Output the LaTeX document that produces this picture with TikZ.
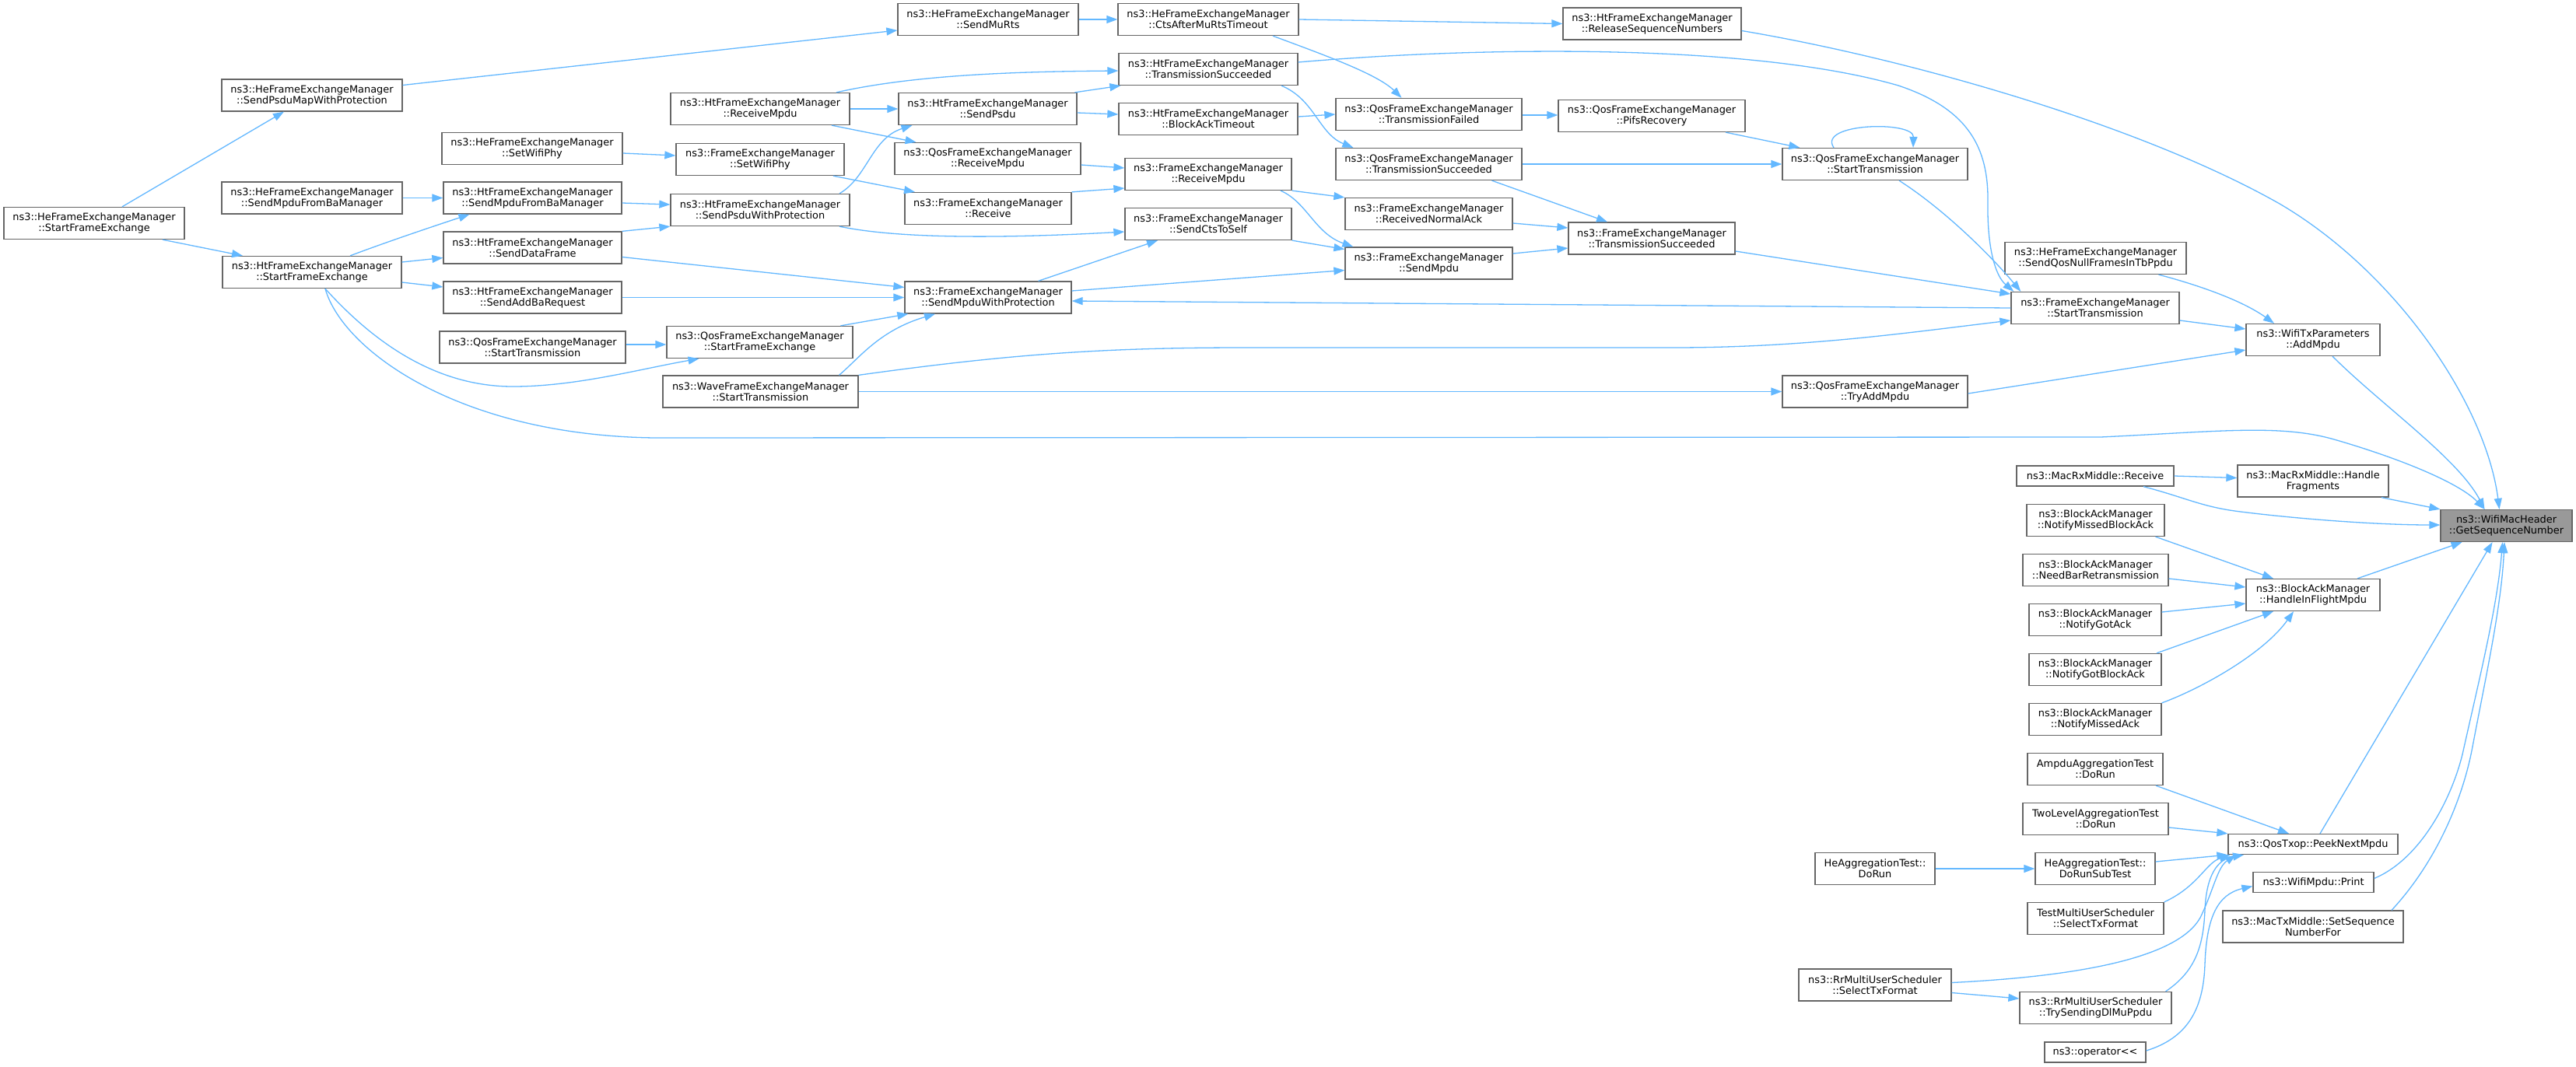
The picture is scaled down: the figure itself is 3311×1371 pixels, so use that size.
\documentclass[tikz,border=0pt]{standalone}
\usepackage{fontspec}
\newfontfamily\dejavu{DejaVu Sans}
\usetikzlibrary{arrows.meta,calc}
\definecolor{edgeblue}{HTML}{63B8FF}
\definecolor{boxgray}{HTML}{666666}
\definecolor{mainfill}{HTML}{999999}
\begin{document}
\begin{tikzpicture}[x=1pt,y=-1pt,
  bx/.style={draw=boxgray, fill=white, line width=1.3pt, inner sep=0pt, minimum height=41pt, align=center, font=\dejavu\fontsize{12.9pt}{14pt}\selectfont},
  bx1/.style={bx, minimum height=26pt},
  edg/.style={draw=edgeblue, line width=1.3pt, -{Triangle[length=14pt,width=10pt]}}]
\useasboundingbox[fill=white] (0,0) rectangle (3311,1371);
% nodes
\node[bx, minimum width=232pt] (heSFE) at (121,287) {ns3::HeFrameExchangeManager\\::StartFrameExchange};
\node[bx, minimum width=232pt] (heSPMWP) at (401,122.5) {ns3::HeFrameExchangeManager\\::SendPsduMapWithProtection};
\node[bx, minimum width=232pt] (heSWP) at (684,191) {ns3::HeFrameExchangeManager\\::SetWifiPhy};
\node[bx, minimum width=232pt] (heSMFBM) at (401,254.5) {ns3::HeFrameExchangeManager\\::SendMpduFromBaManager};
\node[bx, minimum width=230pt] (htSFE) at (401,350) {ns3::HtFrameExchangeManager\\::StartFrameExchange};
\node[bx, minimum width=229pt] (htSMFBM) at (684.5,254.5) {ns3::HtFrameExchangeManager\\::SendMpduFromBaManager};
\node[bx, minimum width=229pt] (htSDF) at (684.5,318.5) {ns3::HtFrameExchangeManager\\::SendDataFrame};
\node[bx, minimum width=229pt] (htSABR) at (684.5,382.5) {ns3::HtFrameExchangeManager\\::SendAddBaRequest};
\node[bx, minimum width=239pt] (qosST1) at (684.5,446.5) {ns3::QosFrameExchangeManager\\::StartTransmission};
\node[bx, minimum width=230pt] (htRM) at (977,140) {ns3::HtFrameExchangeManager\\::ReceiveMpdu};
\node[bx, minimum width=216pt] (fSWP) at (977,205) {ns3::FrameExchangeManager\\::SetWifiPhy};
\node[bx, minimum width=230pt] (htSPWP) at (977,270) {ns3::HtFrameExchangeManager\\::SendPsduWithProtection};
\node[bx, minimum width=239pt] (qosSFE) at (976.5,440) {ns3::QosFrameExchangeManager\\::StartFrameExchange};
\node[bx, minimum width=251pt] (waveST) at (977.5,503.5) {ns3::WaveFrameExchangeManager\\::StartTransmission};
\node[bx, minimum width=232pt] (heSMR) at (1270,25) {ns3::HeFrameExchangeManager\\::SendMuRts};
\node[bx, minimum width=229pt] (htSP) at (1269.5,140) {ns3::HtFrameExchangeManager\\::SendPsdu};
\node[bx, minimum width=239pt] (qosRM) at (1269.5,204) {ns3::QosFrameExchangeManager\\::ReceiveMpdu};
\node[bx, minimum width=214pt] (fR) at (1270,268) {ns3::FrameExchangeManager\\::Receive};
\node[bx, minimum width=214pt] (fSMWP) at (1270,382.5) {ns3::FrameExchangeManager\\::SendMpduWithProtection};
\node[bx, minimum width=232pt] (heCAMRT) at (1553,25) {ns3::HeFrameExchangeManager\\::CtsAfterMuRtsTimeout};
\node[bx, minimum width=230pt] (htTS) at (1553,89) {ns3::HtFrameExchangeManager\\::TransmissionSucceeded};
\node[bx, minimum width=230pt] (htBAT) at (1553,153) {ns3::HtFrameExchangeManager\\::BlockAckTimeout};
\node[bx, minimum width=214pt] (fRM) at (1553,224) {ns3::FrameExchangeManager\\::ReceiveMpdu};
\node[bx, minimum width=214pt] (fSCTS) at (1553,288) {ns3::FrameExchangeManager\\::SendCtsToSelf};
\node[bx, minimum width=239pt] (qosTF) at (1836.5,147) {ns3::QosFrameExchangeManager\\::TransmissionFailed};
\node[bx, minimum width=239pt] (qosTS) at (1836.5,211) {ns3::QosFrameExchangeManager\\::TransmissionSucceeded};
\node[bx, minimum width=215pt] (fRNA) at (1836.5,275) {ns3::FrameExchangeManager\\::ReceivedNormalAck};
\node[bx, minimum width=215pt] (fSM) at (1836.5,338.5) {ns3::FrameExchangeManager\\::SendMpdu};
\node[bx, minimum width=229pt] (htRSN) at (2123.5,30.5) {ns3::HtFrameExchangeManager\\::ReleaseSequenceNumbers};
\node[bx, minimum width=240pt] (qosPR) at (2123,149) {ns3::QosFrameExchangeManager\\::PifsRecovery};
\node[bx, minimum width=214pt] (fTS) at (2123,306.5) {ns3::FrameExchangeManager\\::TransmissionSucceeded};
\node[bx, minimum width=238pt] (qosST2) at (2410,211) {ns3::QosFrameExchangeManager\\::StartTransmission};
\node[bx, minimum width=238pt] (qosTAM) at (2410,503.5) {ns3::QosFrameExchangeManager\\::TryAddMpdu};
\node[bx, minimum width=233pt] (heSQNF) at (2693.5,332) {ns3::HeFrameExchangeManager\\::SendQosNullFramesInTbPpdu};
\node[bx, minimum width=216pt] (fST) at (2693,396) {ns3::FrameExchangeManager\\::StartTransmission};
\node[bx1, minimum width=202pt] (mrxR) at (2693,612) {ns3::MacRxMiddle::Receive};
\node[bx, minimum width=177pt] (bNMBA) at (2693.5,669) {ns3::BlockAckManager\\::NotifyMissedBlockAck};
\node[bx, minimum width=187pt] (bNBR) at (2693.5,733) {ns3::BlockAckManager\\::NeedBarRetransmission};
\node[bx, minimum width=170pt] (bNGA) at (2693,797) {ns3::BlockAckManager\\::NotifyGotAck};
\node[bx, minimum width=170pt] (bNGBA) at (2693,861) {ns3::BlockAckManager\\::NotifyGotBlockAck};
\node[bx, minimum width=170pt] (bNMA) at (2693,925) {ns3::BlockAckManager\\::NotifyMissedAck};
\node[bx, minimum width=174pt] (ampdu) at (2693,989) {AmpduAggregationTest\\::DoRun};
\node[bx, minimum width=187pt] (twoL) at (2693.5,1053) {TwoLevelAggregationTest\\::DoRun};
\node[bx, minimum width=154pt] (heAggR) at (2410,1117) {HeAggregationTest::\\DoRun};
\node[bx, minimum width=154pt] (heAggS) at (2693,1117) {HeAggregationTest::\\DoRunSubTest};
\node[bx, minimum width=175pt] (testMUS) at (2693.5,1181) {TestMultiUserScheduler\\::SelectTxFormat};
\node[bx, minimum width=196pt] (rrSTF) at (2410,1266.5) {ns3::RrMultiUserScheduler\\::SelectTxFormat};
\node[bx, minimum width=195pt] (rrTSD) at (2693.5,1296) {ns3::RrMultiUserScheduler\\::TrySendingDlMuPpdu};
\node[bx1, minimum width=130pt] (opLL) at (2693,1353) {ns3::operator{<}{<}};
\node[bx, minimum width=194pt] (mrxHF) at (2973,618.5) {ns3::MacRxMiddle::Handle\\Fragments};
\node[bx, minimum width=172pt] (bHIFM) at (2973,765) {ns3::BlockAckManager\\::HandleInFlightMpdu};
\node[bx1, minimum width=218pt] (peek) at (2973,1085.5) {ns3::QosTxop::PeekNextMpdu};
\node[bx1, minimum width=155pt] (wmPrint) at (2973.5,1134.5) {ns3::WifiMpdu::Print};
\node[bx, minimum width=232pt] (mtxSSN) at (2973,1191.5) {ns3::MacTxMiddle::SetSequence\\NumberFor};
\node[bx, minimum width=172pt] (addMpdu) at (2973,437) {ns3::WifiTxParameters\\::AddMpdu};
\node[bx, minimum width=169pt, fill=mainfill] (gsn) at (3221.5,676) {ns3::WifiMacHeader\\::GetSequenceNumber};
% edges
\draw[edg] ($(heSFE.north)+(36,0)$) -- ($(heSPMWP.south)+(-36,0)$);
\draw[edg] ($(heSFE.south)+(88,0)$) -- ($(htSFE.north)+(-89,0)$);
\draw[edg] ($(heSPMWP.east)+(0,-13)$) -- ($(heSMR.west)+(0,14)$);
\draw[edg] (heSMR.east) -- (heCAMRT.west);
\draw[edg] (heCAMRT.east) -- (htRSN.west);
\draw[edg] ($(heCAMRT.south)+(83,0)$) .. controls (1700,70) and (1770,95) .. ($(qosTF.north)+(-35,0)$);
\draw[edg] ($(htRSN.east)+(0,9)$) .. controls (2450,75) and (2750,160) .. (2930,262) .. controls (3080,350) and (3195,520) .. ($(gsn.north)+(-9,0)$);
\draw[edg] ($(htTS.east)+(0,-9)$) .. controls (1900,60) and (2250,55) .. (2440,110) .. controls (2530,140) and (2556,190) .. (2555,260) .. controls (2554,320) and (2565,355) .. ($(fST.north west)+(4,0)$);
\draw[edg] ($(htTS.south)+(94,0)$) .. controls (1690,128) and (1695,172) .. ($(qosTS.north west)+(23,0)$);
\draw[edg] ($(htBAT.east)+(0,-3)$) -- (qosTF.west);
\draw[edg] ($(htRM.north)+(98,0)$) .. controls (1180,95) and (1320,92) .. ($(htTS.west)+(0,2)$);
\draw[edg] (htRM.east) -- (htSP.west);
\draw[edg] ($(htRM.south)+(92,0)$) -- ($(qosRM.north)+(-92,0)$);
\draw[edg] ($(htSP.north)+(112,0)$) -- ($(htTS.south west)+(3,0)$);
\draw[edg] ($(htSP.east)+(0,5)$) -- ($(htBAT.west)+(0,-6)$);
\draw[edg] ($(qosRM.east)+(0,8)$) -- ($(fRM.west)+(0,-8)$);
\draw[edg] (fR.north east) -- ($(fRM.west)+(0,18)$);
\draw[edg] ($(fSWP.south)+(94,0)$) -- ($(fR.north)+(-94,0)$);
\draw[edg] ($(heSWP.east)+(0,6)$) -- ($(fSWP.west)+(0,-5)$);
\draw[edg] ($(htSPWP.north)+(102,0)$) .. controls (1115,228) and (1120,178) .. ($(htSP.south)+(-97,0)$);
\draw[edg] ($(htSPWP.south)+(102,0)$) .. controls (1160,308) and (1300,306) .. ($(fSCTS.west)+(0,10)$);
\draw[edg] ($(htSMFBM.east)+(0,6.5)$) -- ($(htSPWP.west)+(0,-7)$);
\draw[edg] (htSDF.north east) -- (htSPWP.south west);
\draw[edg] ($(htSDF.east)+(0,12)$) -- ($(fSMWP.west)+(0,-13)$);
\draw[edg] ($(htSFE.north)+(49,0)$) .. controls (500,310) and (560,290) .. ($(htSMFBM.south)+(-81,0)$);
\draw[edg] ($(htSFE.east)+(0,-13)$) -- ($(htSDF.west)+(0,13)$);
\draw[edg] ($(htSFE.east)+(0,13)$) -- ($(htSABR.west)+(0,-13.5)$);
\draw[edg] (htSABR.east) -- (fSMWP.west);
\draw[edg] ($(qosST1.east)+(0,-3.5)$) -- ($(qosSFE.west)+(0,3)$);
\draw[edg] ($(qosSFE.north)+(104,0)$) -- ($(fSMWP.south west)+(5,0)$);
\draw[edg] ($(waveST.north)+(101,0)$) .. controls (1105,460) and (1130,425) .. ($(fSMWP.south)+(-68,0)$);
\draw[edg] (waveST.north east) .. controls (1300,455) and (1420,447) .. (1600,447) -- (2150,447) .. controls (2320,447) and (2450,428) .. ($(fST.west)+(0,16)$);
\draw[edg] (waveST.east) -- (qosTAM.west);
\draw[edg] ($(qosTAM.east)+(0,2.5)$) -- ($(addMpdu.west)+(0,13)$);
\draw[edg] ($(fST.east)+(0,16)$) -- ($(addMpdu.west)+(0,-14)$);
\draw[edg] ($(heSQNF.south)+(81,0)$) .. controls (2820,365) and (2880,385) .. ($(addMpdu.north)+(-50,0)$);
\draw[edg] ($(addMpdu.south)+(25,0)$) .. controls (3060,520) and (3160,590) .. ($(gsn.north)+(-28,0)$);
\draw[edg] (fST.west) -- ($(fSMWP.east)+(0,4.5)$);
\draw[edg] ($(fTS.east)+(0,16.5)$) -- ($(fST.west)+(0,-18)$);
\draw[edg] ($(fSMWP.east)+(0,-8.5)$) -- ($(fSM.west)+(0,9)$);
\draw[edg] ($(fSMWP.north)+(64.5,0)$) -- ($(fSCTS.south)+(-65,0)$);
\draw[edg] (fRM.south east) -- (fRNA.north west);
\draw[edg] ($(fRM.south)+(93,0)$) .. controls (1680,260) and (1690,300) .. ($(fSM.north west)+(11,0)$);
\draw[edg] (fSCTS.south east) -- ($(fSM.west)+(0,-18)$);
\draw[edg] ($(fRNA.east)+(0,12)$) -- ($(fTS.west)+(0,-13.5)$);
\draw[edg] ($(fSM.east)+(0,-12.5)$) -- ($(fTS.west)+(0,12.5)$);
\draw[edg] ($(qosTS.south)+(81,0)$) -- ($(fTS.north)+(-57,0)$);
\draw[edg] (qosTS.east) -- (qosST2.west);
\draw[edg] ($(qosTF.east)+(0,1)$) -- ($(qosPR.west)+(0,-1)$);
\draw[edg] ($(qosPR.south)+(95,0)$) -- ($(qosST2.north west)+(23,0)$);
\draw[edg] ($(qosST2.north)+(-53,0)$) .. controls (2335,158) and (2460,155) .. ($(qosST2.north)+(49,0)$);
\draw[edg] ($(qosST2.south)+(31,0)$) .. controls (2500,270) and (2560,330) .. ($(fST.north west)+(13,0)$);
\draw[edg] ($(htSFE.south)+(17,0)$) .. controls (480,440) and (560,497) .. (659,497) .. controls (740,497) and (820,475) .. ($(qosSFE.south)+(-78,0)$);
\draw[edg] ($(htSFE.south)+(17,0)$) .. controls (440,450) and (590,560) .. (842,563) -- (2700,562) .. controls (2850,555) and (2930,545) .. (3000,565) .. controls (3080,588) and (3160,620) .. ($(gsn.north)+(-28,0)$);
\draw[edg] (mrxR.east) -- ($(mrxHF.west)+(0,-4)$);
\draw[edg] ($(mrxR.south)+(62,0)$) .. controls (2810,640) and (2830,652) .. (2880,658) .. controls (2960,668) and (3060,675) .. ($(gsn.west)+(0,-1)$);
\draw[edg] ($(mrxHF.south)+(88,0)$) -- (gsn.north west);
\draw[edg] ($(bNMBA.south)+(77,0)$) -- ($(bHIFM.north)+(-51,0)$);
\draw[edg] ($(bNBR.east)+(0,11)$) -- ($(bHIFM.west)+(0,-10)$);
\draw[edg] ($(bNGA.east)+(0,-10)$) -- ($(bHIFM.west)+(0,11)$);
\draw[edg] ($(bNGBA.north)+(79,0)$) -- ($(bHIFM.south)+(-51,0)$);
\draw[edg] (bNMA.north east) .. controls (2830,885) and (2910,840) .. ($(bHIFM.south)+(-25,0)$);
\draw[edg] ($(bHIFM.north)+(57,0)$) -- ($(gsn.south)+(-57,0)$);
\draw[edg] ($(ampdu.south)+(78,0)$) -- ($(peek.north)+(-31,0)$);
\draw[edg] ($(twoL.east)+(0,11)$) -- (peek.north west);
\draw[edg] (heAggR.east) -- (heAggS.west);
\draw[edg] ($(heAggS.east)+(0,-9)$) -- (peek.south west);
\draw[edg] (testMUS.north east) .. controls (2825,1140) and (2835,1110) .. ($(peek.south west)+(3,0)$);
\draw[edg] ($(rrSTF.east)+(0,-3)$) .. controls (2680,1255) and (2800,1230) .. (2828,1180) .. controls (2845,1145) and (2850,1115) .. ($(peek.south)+(-99,0)$);
\draw[edg] ($(rrSTF.east)+(0,10)$) -- ($(rrTSD.west)+(0,-12)$);
\draw[edg] ($(rrTSD.north)+(90,0)$) .. controls (2820,1250) and (2832,1220) .. (2834,1170) .. controls (2836,1125) and (2850,1105) .. ($(peek.south)+(-89,0)$);
\draw[edg] ($(opLL.east)+(0,-2)$) .. controls (2810,1335) and (2832,1300) .. (2834,1240) .. controls (2836,1180) and (2850,1150) .. ($(wmPrint.west)+(0,5)$);
\draw[edg] ($(peek.north)+(9,0)$) -- ($(gsn.south)+(-18,0)$);
\draw[edg] ($(wmPrint.east)+(0,-5)$) .. controls (3110,1105) and (3150,1030) .. (3165,970) .. controls (3185,880) and (3210,780) .. ($(gsn.south)+(-5,0)$);
\draw[edg] ($(mtxSSN.north)+(101,0)$) .. controls (3130,1110) and (3165,1030) .. (3178,960) .. controls (3195,870) and (3215,780) .. ($(gsn.south)+(-2.5,0)$);
\draw[edg] (heSMFBM.east) -- (htSMFBM.west);
\end{tikzpicture}
\end{document}
